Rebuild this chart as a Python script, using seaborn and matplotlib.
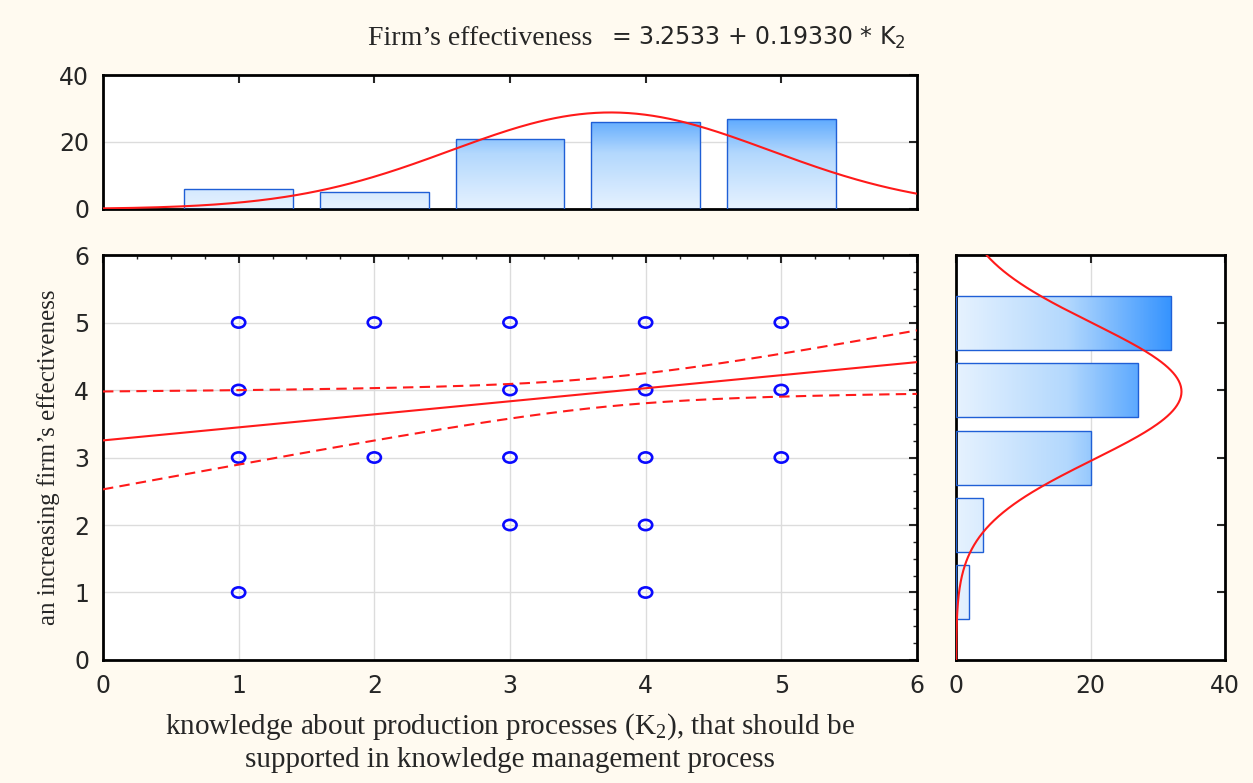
import numpy as np
import matplotlib
matplotlib.use("Agg")
import matplotlib.pyplot as plt
from matplotlib.path import Path
from matplotlib.transforms import Affine2D
from matplotlib.colors import LinearSegmentedColormap, Normalize
from matplotlib.ticker import MultipleLocator
import seaborn as sns

# ---------------------------------------------------------------------------
# data
# ---------------------------------------------------------------------------
k2_levels = [1, 2, 3, 4, 5]
k2_counts = [6, 5, 21, 26, 27]          # top histogram
eff_levels = [1, 2, 3, 4, 5]
eff_counts = [2, 4, 20, 27, 32]         # right histogram

scatter_x = [1, 1, 1, 1, 2, 2, 3, 3, 3, 3, 4, 4, 4, 4, 4, 5, 5, 5]
scatter_y = [5, 4, 3, 1, 5, 3, 5, 4, 3, 2, 5, 4, 3, 2, 1, 5, 4, 3]

intercept = 3.2533
slope = 0.19330
resid_sd = 1.003     # residual standard error of the fit
t_crit = 1.989       # 95% t value, df = 83

BG = "#fffaf0"
BAR_EDGE = "#1f5fd6"
RED = "#ff1a1a"
BLUE = "#0a0aff"

sns.set_style("white")
plt.rcParams.update({
    "font.family": ["DejaVu Sans"],
    "mathtext.fontset": "custom",
    "mathtext.rm": "Liberation Serif",
    "mathtext.sf": "DejaVu Sans",
    "axes.edgecolor": "black",
    "axes.linewidth": 2.0,
    "xtick.direction": "in",
    "ytick.direction": "in",
    "xtick.major.size": 6,
    "ytick.major.size": 6,
    "xtick.minor.size": 3,
    "ytick.minor.size": 3,
    "xtick.major.width": 1.5,
    "ytick.major.width": 1.5,
    "xtick.minor.width": 1.0,
    "ytick.minor.width": 1.0,
    "xtick.major.pad": 10,
    "ytick.major.pad": 10,
    "xtick.labelsize": 17,
    "ytick.labelsize": 17,
    "grid.color": "#dcdcdc",
    "grid.linewidth": 1.0,
})

grad_cmap = LinearSegmentedColormap.from_list("grad", ["#e6f2ff", "#b3d8fd", "#2d8fff"])
grad_norm = Normalize(0, 33)


def gradient_bars(ax, patches, vertical):
    """Fill each bar with a value gradient, clipped to the bar."""
    for p in patches:
        x0, y0 = p.get_x(), p.get_y()
        w, h = p.get_width(), p.get_height()
        if vertical:
            vals = np.linspace(y0, y0 + h, 200).reshape(-1, 1)
        else:
            vals = np.linspace(x0, x0 + w, 200).reshape(1, -1)
        im = ax.imshow(vals, cmap=grad_cmap, norm=grad_norm, origin="lower",
                       extent=(x0, x0 + w, y0, y0 + h), aspect="auto", zorder=1)
        im.set_clip_path(p)


def normal_curve(levels, counts, grid):
    levels = np.asarray(levels, float)
    counts = np.asarray(counts, float)
    n = counts.sum()
    mu = (levels * counts).sum() / n
    sd = np.sqrt(((levels - mu) ** 2 * counts).sum() / (n - 1))
    return n * np.exp(-0.5 * ((grid - mu) / sd) ** 2) / (sd * np.sqrt(2 * np.pi))


fig = plt.figure(figsize=(12.53, 7.83), dpi=100, facecolor=BG)
ax_top = fig.add_axes([0.0822, 0.7331, 0.6496, 0.1711])
ax_main = fig.add_axes([0.0822, 0.1571, 0.6496, 0.5172])
ax_right = fig.add_axes([0.763, 0.1571, 0.2147, 0.5172])

grid = np.linspace(0, 6, 300)

# --- top histogram ---
bars = ax_top.bar(k2_levels, k2_counts, width=0.8, facecolor="none",
                  edgecolor=BAR_EDGE, linewidth=1.0, zorder=3)
gradient_bars(ax_top, bars, vertical=True)
ax_top.plot(grid, normal_curve(k2_levels, k2_counts, grid), color=RED, lw=1.5, zorder=4)
ax_top.set_xlim(0, 6)
ax_top.set_ylim(0, 40)
ax_top.set_xticks(k2_levels)
ax_top.set_yticks([0, 20, 40])
ax_top.tick_params(top=True, right=True, labelbottom=False)
ax_top.yaxis.grid(True)
ax_top.set_axisbelow(True)

# --- right histogram ---
bars = ax_right.barh(eff_levels, eff_counts, height=0.8, facecolor="none",
                     edgecolor=BAR_EDGE, linewidth=1.0, zorder=3)
gradient_bars(ax_right, bars, vertical=False)
ax_right.plot(normal_curve(eff_levels, eff_counts, grid), grid, color=RED, lw=1.5, zorder=4)
ax_right.set_xlim(0, 40)
ax_right.set_ylim(0, 6)
ax_right.set_xticks([0, 20, 40])
ax_right.set_yticks(eff_levels)
ax_right.tick_params(top=True, right=True, labelleft=False)
ax_right.xaxis.grid(True)
ax_right.set_axisbelow(True)

# --- scatter with regression and 95% band ---
ellipse = Path.unit_circle().transformed(Affine2D().scale(1.0, 0.78))
sns.scatterplot(x=scatter_x, y=scatter_y, ax=ax_main, marker=ellipse, s=90,
                facecolor="none", edgecolor=BLUE, linewidth=1.9, zorder=3)

k2_arr = np.asarray(k2_levels, float)
n = float(np.sum(k2_counts))
x_mean = (k2_arr * k2_counts).sum() / n
sxx = ((k2_arr - x_mean) ** 2 * k2_counts).sum()
fit = intercept + slope * grid
half = t_crit * resid_sd * np.sqrt(1 / n + (grid - x_mean) ** 2 / sxx)
sns.lineplot(x=grid, y=fit, ax=ax_main, color=RED, lw=1.5, zorder=4)
ax_main.plot(grid, fit + half, color=RED, lw=1.5, ls=(0, (5, 3)), zorder=4)
ax_main.plot(grid, fit - half, color=RED, lw=1.5, ls=(0, (5, 3)), zorder=4)

ax_main.set_xlim(0, 6)
ax_main.set_ylim(0, 6)
ax_main.set_xticks(range(7))
ax_main.set_yticks(range(7))
ax_main.xaxis.set_minor_locator(MultipleLocator(0.25))
ax_main.yaxis.set_minor_locator(MultipleLocator(0.25))
ax_main.tick_params(which="both", top=True, right=True)
ax_main.grid(True, which="major")
ax_main.set_axisbelow(True)

ax_main.set_xlabel("knowledge about production processes (K$_2$), that should be\n"
                   "supported in knowledge management process",
                   family="Liberation Serif", fontsize=21, linespacing=1.25, labelpad=10)
ax_main.set_ylabel("an increasing firm\u2019s effectiveness",
                   family="Liberation Serif", fontsize=18, labelpad=10)

fig.text(0.4725, 0.951, "Firm\u2019s effectiveness", family="Liberation Serif",
         fontsize=20, ha="right", va="center")
fig.text(0.488, 0.951, "= 3.2533 + 0.19330 * $\\mathsf{K}_\\mathsf{2}$",
         family="DejaVu Sans", fontsize=17, ha="left", va="center")

fig.savefig("out.png", dpi=100, facecolor=BG)
